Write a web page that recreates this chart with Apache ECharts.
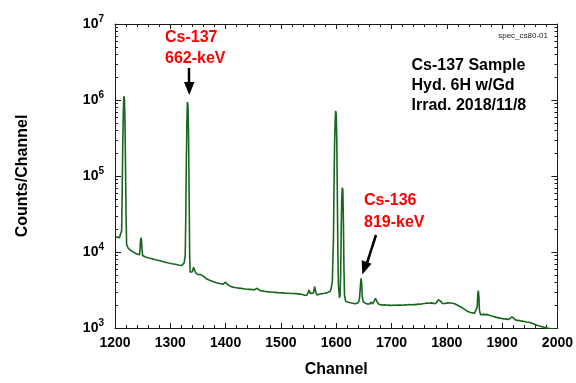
<!DOCTYPE html>
<html>
<head>
<meta charset="utf-8">
<script src="https://cdn.jsdelivr.net/npm/echarts@6/dist/echarts.min.js"></script>
<style>
  html, body { margin: 0; padding: 0; background: #fff; }
  #chart { width: 576px; height: 383px; }
</style>
</head>
<body>
<div id="chart"></div>
<script>
// Gamma spectrum, channels 1200-2000, counts per channel (log scale)
var channels = [
  1200,1202,1204,1206,1208,1210,1211,1212,1213,1214,1215,1216,1217,1218,1219,1220,1221,1222,1224,1226,
  1228,1230,1232,1234,1236,1238,1240,1242,1244,1245,1246,1247,1248,1249,1250,1252,1255,1258,1261,1264,
  1267,1270,1273,1276,1279,1282,1285,1288,1291,1294,1297,1300,1303,1306,1309,1312,1315,1318,1321,1323,
  1325,1327,1328,1329,1330,1331,1332,1333,1334,1335,1336,1338,1340,1342,1343,1344,1346,1348,1350,1352,
  1354,1356,1357,1359,1362,1365,1368,1371,1374,1377,1380,1383,1386,1389,1392,1395,1398,1400,1402,1404,
  1407,1410,1413,1416,1420,1424,1428,1432,1436,1440,1444,1448,1452,1455,1457,1459,1462,1466,1470,1474,
  1478,1480,1482,1486,1490,1494,1498,1502,1506,1510,1514,1518,1521,1523,1527,1531,1535,1539,1541,1543,
  1545,1547,1549,1551,1553,1556,1559,1561,1563,1565,1568,1571,1575,1579,1583,1586,1589,1591,1593,1595,
  1596,1597,1598,1599,1600,1601,1602,1603,1604,1606,1607,1608,1609,1610,1611,1612,1613,1614,1615,1617,
  1619,1622,1625,1628,1631,1634,1637,1640,1642,1644,1645,1646,1647,1649,1652,1655,1658,1661,1663,1664,
  1666,1669,1671,1672,1674,1677,1680,1684,1688,1692,1696,1700,1704,1708,1712,1716,1720,1724,1728,1732,
  1736,1740,1744,1748,1752,1756,1760,1764,1768,1772,1776,1780,1783,1785,1787,1789,1792,1795,1798,1802,
  1806,1810,1814,1818,1822,1826,1830,1834,1838,1842,1846,1850,1853,1855,1856,1857,1858,1859,1861,1864,
  1867,1870,1873,1875,1877,1880,1884,1888,1892,1896,1900,1904,1908,1912,1915,1918,1920,1924,1928,1932,
  1936,1940,1944,1948,1952,1956,1960,1964,1968,1972,1976,1980,1984,1988,1992,1996,2000
];
var counts = [
  15800,15600,15700,15300,15400,15200,15600,19000,60000,260000,650000,1120000,1050000,550000,140000,30000,12500,11800,11200,10900,
  10600,10300,10100,9900,9700,9600,9400,9300,9200,10200,13500,15500,14200,10500,9000,8700,8600,8450,8350,8200,
  8150,8000,7900,7850,7750,7600,7550,7400,7350,7250,7150,7100,7000,6950,6900,6800,6750,6700,6650,6800,
  7200,9000,30000,160000,500000,940000,850000,350000,60000,9000,5400,5300,5500,6300,6600,6200,5300,5150,5050,5000,
  5050,5200,5150,4850,4600,4450,4350,4250,4150,4080,4020,3950,3900,3850,3800,3760,3800,4000,4050,3700,
  3600,3500,3450,3420,3380,3350,3320,3290,3260,3240,3220,3200,3180,3170,3330,3250,3120,3080,3040,3010,
  2990,3080,2980,2960,2940,2920,2910,2900,2880,2870,2860,2850,3000,2850,2830,2810,2790,2760,2840,2700,
  2640,2700,2800,3150,2850,2750,2900,3500,3000,2720,2760,2800,2830,2860,2900,2960,3050,3300,4200,15000,
  70000,250000,500000,720000,650000,300000,60000,10000,3600,2500,2700,5000,18000,50000,70000,65000,25000,6000,2700,2250,
  2200,2180,2150,2130,2110,2090,2080,2150,2400,3800,4500,3900,2600,2200,2100,2080,2060,2070,2200,2240,
  2070,2100,2450,2540,2200,2050,2020,2000,2020,1990,2000,1980,2010,1990,2000,2010,1990,2020,2010,2030,
  2020,2040,2030,2060,2050,2080,2100,2130,2120,2140,2110,2100,2160,2350,2420,2250,2100,2130,2110,2140,
  2130,2120,2080,2020,1950,1890,1800,1720,1650,1610,1580,1560,1560,1900,2800,3100,2600,1700,1500,1490,
  1510,1480,1500,1560,1470,1440,1420,1390,1370,1350,1330,1320,1310,1300,1330,1400,1320,1280,1260,1250,
  1230,1220,1200,1190,1170,1140,1110,1080,1060,1040,1020,1000,990,980,970,960,950
];

// Axis ranges and ticks
var xMin = 1200, xMax = 2000, xStep = 100;
var yMin = 1e3, yMax = 1e7;
var yDecades = [3, 4, 5, 6, 7];
var yMinorTicks = [];
yDecades.slice(0, -1).forEach(function (d) {
  for (var m = 2; m <= 9; m++) yMinorTicks.push(m * Math.pow(10, d));
});

var FONT = 'Liberation Sans, Arial, Helvetica, sans-serif';
var GREEN = '#17661c';
var AXIS = '#1a1a1a';

var chart = echarts.init(document.getElementById('chart'), null, { renderer: 'canvas' });

function xAxisCommon(pos, showLabels) {
  return {
    type: 'value', position: pos, min: xMin, max: xMax, interval: xStep,
    axisLine: { show: true, onZero: false, lineStyle: { color: AXIS, width: 1 } },
    axisTick: { show: true, inside: true, length: 5, lineStyle: { color: AXIS } },
    minorTick: { show: true, splitNumber: 5, length: 3, lineStyle: { color: AXIS } },
    splitLine: { show: false },
    axisLabel: {
      show: showLabels, margin: 8, color: '#000',
      fontFamily: FONT, fontWeight: 'bold', fontSize: 14,
      formatter: function (v) { return String(v); }
    }
  };
}

function yAxisCommon(pos, showLabels) {
  return {
    type: 'log', logBase: 10, position: pos, min: yMin, max: yMax,
    axisLine: { show: true, onZero: false, lineStyle: { color: AXIS, width: 1 } },
    axisTick: { show: true, inside: true, length: 6, lineStyle: { color: AXIS } },
    minorTick: { show: false },
    splitLine: { show: false },
    axisLabel: {
      show: showLabels, margin: 11,
      formatter: function (v) {
        return '{b|10}{s|' + Math.round(Math.log10(v)) + '}';
      },
      rich: {
        b: { fontFamily: FONT, fontWeight: 'bold', fontSize: 14, color: '#000' },
        s: { fontFamily: FONT, fontWeight: 'bold', fontSize: 10, color: '#000', padding: [0, 0, 9, 0] }
      }
    }
  };
}

var xBottom = xAxisCommon('bottom', true);
xBottom.name = 'Channel';
xBottom.nameLocation = 'middle';
xBottom.nameGap = 34;
xBottom.nameTextStyle = { fontFamily: FONT, fontWeight: 'bold', fontSize: 16, color: '#000' };

var yLeft = yAxisCommon('left', true);
yLeft.name = 'Counts/Channel';
yLeft.nameLocation = 'middle';
yLeft.nameGap = 84;
yLeft.nameTextStyle = { fontFamily: FONT, fontWeight: 'bold', fontSize: 16, color: '#000' };

var option = {
  animation: false,
  backgroundColor: '#fff',
  grid: { left: 115, right: 17, top: 24, bottom: 50, containLabel: false },
  xAxis: [xBottom, xAxisCommon('top', false)],
  yAxis: [yLeft, yAxisCommon('right', false)],
  series: [
    {
      type: 'line',
      xAxisIndex: 0, yAxisIndex: 0,
      data: channels.map(function (c, i) { return [c, counts[i]]; }),
      showSymbol: false, symbol: 'none',
      lineStyle: { color: GREEN, width: 1.6 },
      clip: true,
      z: 3
    },
    {
      // minor ticks at 2..9 x 10^n on both vertical axes
      type: 'custom',
      xAxisIndex: 0, yAxisIndex: 0,
      silent: true, clip: false,
      data: yMinorTicks.map(function (v) { return [xMin, v]; }),
      renderItem: function (params, api) {
        var p = api.coord([xMin, api.value(1)]);
        var cs = params.coordSys;
        var y = Math.round(p[1]) + 0.5;
        var l = cs.x, r = cs.x + cs.width;
        return {
          type: 'group',
          children: [
            { type: 'line', shape: { x1: l, y1: y, x2: l + 3, y2: y }, style: { stroke: AXIS, lineWidth: 1 } },
            { type: 'line', shape: { x1: r - 3, y1: y, x2: r, y2: y }, style: { stroke: AXIS, lineWidth: 1 } }
          ]
        };
      },
      z: 4
    }
  ],
  graphic: [
    {
      type: 'text', left: 165, top: 27.5,
      style: {
        text: 'Cs-137\n662-keV', fill: '#ff0000',
        font: 'bold 16px ' + FONT, lineHeight: 21
      }
    },
    {
      type: 'line', shape: { x1: 189, y1: 68, x2: 189, y2: 83 },
      style: { stroke: '#000', lineWidth: 2.5 }
    },
    {
      type: 'polygon', shape: { points: [[184, 82], [194.5, 82], [189.2, 95]] },
      style: { fill: '#000' }
    },
    {
      type: 'text', left: 364, top: 190,
      style: {
        text: 'Cs-136\n819-keV', fill: '#ff0000',
        font: 'bold 16px ' + FONT, lineHeight: 21.5
      }
    },
    {
      type: 'line', shape: { x1: 376, y1: 235, x2: 367, y2: 263 },
      style: { stroke: '#000', lineWidth: 2.5 }
    },
    {
      type: 'polygon', shape: { points: [[371.5, 263.8], [361.7, 260.3], [362.3, 274.5]] },
      style: { fill: '#000' }
    },
    {
      type: 'text', left: 411.5, top: 56,
      style: {
        text: 'Cs-137 Sample\nHyd. 6H w/Gd\nIrrad. 2018/11/8', fill: '#000',
        font: 'bold 16px ' + FONT, lineHeight: 19.7
      }
    },
    {
      type: 'text', right: 28, top: 32,
      style: { text: 'spec_cs80-01', fill: '#222', font: '8px ' + FONT }
    }
  ]
};

chart.setOption(option);
</script>
</body>
</html>
